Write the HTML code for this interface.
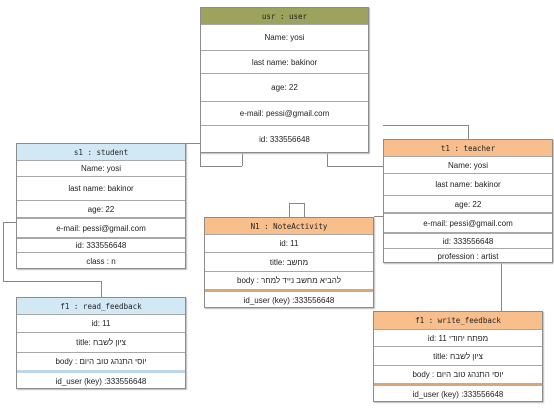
<!DOCTYPE html>
<html><head><meta charset="utf-8"><style>
body{margin:0;width:554px;height:414px;background:#fff;position:relative;overflow:hidden;font-family:"Liberation Sans","DejaVu Sans",sans-serif;}
.b{position:absolute;border:1px solid #8c8c8c;box-sizing:border-box;background:#fff;box-shadow:1px 1px 1px #bbb;}
.r{position:absolute;left:0;right:0;box-sizing:border-box;border-top:1px solid #a8a8a8;font-size:8px;color:#222;display:flex;align-items:center;justify-content:center;white-space:nowrap;}
.h{border-top:none;font-family:"DejaVu Sans Mono","Liberation Mono",monospace;font-size:7.5px;color:#222;}
.l{position:absolute;background:#888;}
</style></head><body>
<!-- connectors -->
<div class="l" style="left:186px;top:143px;width:14px;height:1px"></div>
<div class="l" style="left:200px;top:152px;width:1px;height:14px"></div>
<div class="l" style="left:200px;top:166px;width:42px;height:1px"></div>
<div class="l" style="left:242px;top:152px;width:1px;height:14px"></div>
<div class="l" style="left:327px;top:152px;width:1px;height:14px"></div>
<div class="l" style="left:327px;top:166px;width:56px;height:1px"></div>
<div class="l" style="left:383px;top:125px;width:85px;height:1px"></div>
<div class="l" style="left:468px;top:125px;width:1px;height:14px"></div>
<div class="l" style="left:289px;top:203px;width:15px;height:1px"></div>
<div class="l" style="left:289px;top:203px;width:1px;height:14px"></div>
<div class="l" style="left:304px;top:203px;width:1px;height:14px"></div>
<div class="l" style="left:374px;top:216px;width:9px;height:1px"></div>
<div class="l" style="left:3px;top:222px;width:13px;height:1px"></div>
<div class="l" style="left:3px;top:222px;width:1px;height:59px"></div>
<div class="l" style="left:3px;top:281px;width:98px;height:1px"></div>
<div class="l" style="left:101px;top:281px;width:1px;height:16px"></div>
<div class="l" style="left:501px;top:262px;width:1px;height:50px"></div>

<!-- user -->
<div class="b" style="left:200px;top:7px;width:169px;height:146px">
<div class="r h" style="top:0;height:16px;background:#9da25c">usr : user</div>
<div class="r" style="top:16px;height:26px">Name: yosi</div>
<div class="r" style="top:42px;height:23px">last name: bakinor</div>
<div class="r" style="top:65px;height:28px">age: 22</div>
<div class="r" style="top:93px;height:24px">e-mail: pessi@gmail.com</div>
<div class="r" style="top:117px;height:27px">id: 333556648</div>
</div>

<!-- student -->
<div class="b" style="left:16px;top:143px;width:170px;height:126px">
<div class="r h" style="top:0;height:16px;background:#d3e8f5">s1 : student</div>
<div class="r" style="top:16px;height:16px">Name: yosi</div>
<div class="r" style="top:32px;height:24px">last name: bakinor</div>
<div class="r" style="top:56px;height:17px">age: 22</div>
<div class="r" style="top:73px;height:20px;border-top:2px solid #a8a8a8">e-mail: pessi@gmail.com</div>
<div class="r" style="top:93px;height:15px;border-top:2px solid #a8a8a8">id: 333556648</div>
<div class="r" style="top:108px;height:17px">class : n</div>
</div>

<!-- teacher -->
<div class="b" style="left:383px;top:139px;width:170px;height:124px">
<div class="r h" style="top:0;height:16px;background:#f8bf8c">t1 : teacher</div>
<div class="r" style="top:16px;height:17px">Name: yosi</div>
<div class="r" style="top:33px;height:22px">last name: bakinor</div>
<div class="r" style="top:55px;height:17px">age: 22</div>
<div class="r" style="top:72px;height:20px;border-top:2px solid #a8a8a8">e-mail: pessi@gmail.com</div>
<div class="r" style="top:92px;height:16px;border-top:2px solid #a8a8a8">id: 333556648</div>
<div class="r" style="top:108px;height:15px">profession : artist</div>
</div>

<!-- N1 -->
<div class="b" style="left:204px;top:217px;width:170px;height:91px">
<div class="r h" style="top:0;height:16px;background:#f8bf8c">N1 : NoteActivity</div>
<div class="r" style="top:16px;height:18px">id: 11</div>
<div class="r" style="top:34px;height:19px">title: מחשב</div>
<div class="r" style="top:53px;height:18px">body : להביא מחשב נייד למחר</div>
<div class="r" style="top:71px;height:19px;border-top:3px solid #d9a67a">id_user (key) :333556648</div>
</div>

<!-- read_feedback -->
<div class="b" style="left:16px;top:297px;width:170px;height:92px">
<div class="r h" style="top:0;height:16px;background:#d3e8f5">f1 : read_feedback</div>
<div class="r" style="top:16px;height:18px">id: 11</div>
<div class="r" style="top:34px;height:20px">title: ציון לשבח</div>
<div class="r" style="top:54px;height:18px">body : יוסי התנהג טוב היום</div>
<div class="r" style="top:72px;height:19px;border-top:3px solid #bcd6ea">id_user (key) :333556648</div>
</div>

<!-- write_feedback -->
<div class="b" style="left:373px;top:311px;width:170px;height:91px">
<div class="r h" style="top:0;height:17px;background:#f8bf8c">f1 : write_feedback</div>
<div class="r" style="top:17px;height:17px">id: 11 מפתח יחודי</div>
<div class="r" style="top:34px;height:19px">title: ציון לשבח</div>
<div class="r" style="top:53px;height:18px">body : יוסי התנהג טוב היום</div>
<div class="r" style="top:71px;height:19px;border-top:3px solid #d9a67a">id_user (key) :333556648</div>
</div>
</body></html>
